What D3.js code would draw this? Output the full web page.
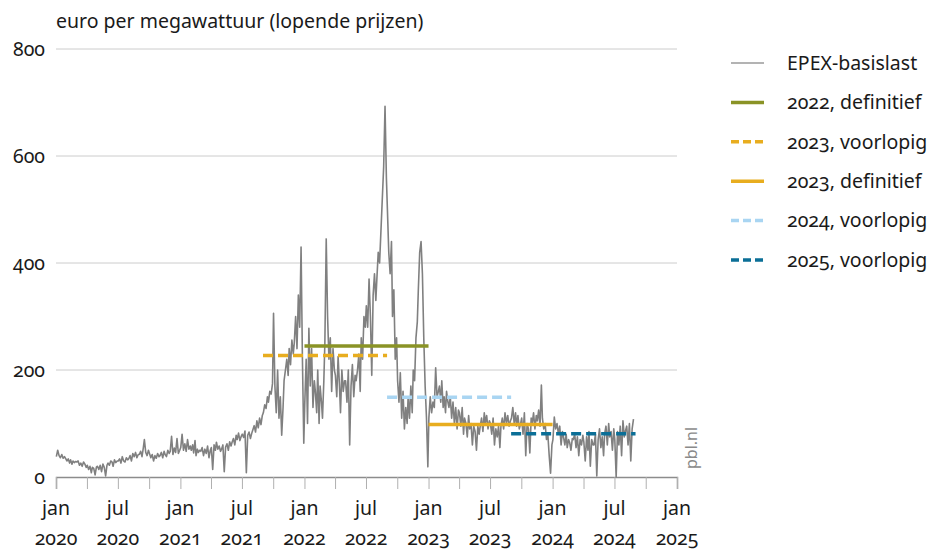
<!DOCTYPE html>
<html>
<head>
<meta charset="utf-8">
<script src="https://cdn.jsdelivr.net/npm/d3@7"></script>
<style>
  body { margin: 0; background: #fff; }
  svg text { font-family: "Noto Sans", sans-serif; font-variant-numeric: oldstyle-nums; font-feature-settings: "onum"; fill: #1a1a1a; }
</style>
</head>
<body>
<svg id="chart" width="931" height="551"></svg>
<script>
// EPEX basislast, 8 readings per month (euro/MWh)
const epex2020 = [
  38, 50, 40, 36, 42, 35, 38, 34,
  30, 34, 26, 32, 24, 30, 27, 29,
  28, 30, 22, 26, 20, 28, 24, 18,
  22, 14, 20, 8, 18, 16, 4, 19,
  20, 14, 22, 10, 24, 18, 2, 22,
  26, 22, 30, 28, 20, 32, 27, 30,
  30, 34, 26, 38, 30, 28, 36, 32,
  34, 40, 30, 44, 38, 46, 36, 42,
  42, 48, 38, 55, 70, 46, 40, 50,
  44, 36, 42, 30, 40, 35, 44, 38,
  40, 46, 36, 48, 42, 38, 50, 44,
  48, 76, 42, 54, 46, 72, 44, 50
];
const epex2021 = [
  55, 80, 50, 62, 48, 70, 52, 58,
  50, 60, 45, 68, 40, 52, 46, 50,
  48, 55, 40, 52, 44, 58, 36, 50,
  55, 14, 60, 50, 65, 52, 58, 48,
  52, 60, 10, 56, 62, 50, 66, 58,
  65, 72, 60, 78, 70, 82, 68, 76,
  80, 74, 86, 8, 78, 84, 72, 82,
  88, 96, 84, 105, 92, 110, 98, 115,
  120, 135, 128, 150, 140, 160, 155, 175,
  306, 170, 120, 200, 110, 150, 78, 130,
  180, 200, 220, 190, 240, 210, 256, 230,
  250, 300, 240, 340, 280, 430, 220, 63
];
const epex2022 = [
  140, 220, 100, 278, 170, 240, 130, 180,
  160, 120, 200, 100, 170, 140, 110, 180,
  250, 445, 300, 220, 260, 160, 240, 200,
  190, 150, 225, 170, 120, 200, 160, 180,
  180, 140, 200, 60, 170, 210, 150, 190,
  180, 200, 230, 160, 260, 220, 300, 280,
  320, 280, 370, 300, 190, 340, 380, 330,
  370, 420, 400, 460, 520, 580, 693, 560,
  500, 420, 380, 440, 300, 350, 220, 260,
  180, 140, 195, 110, 160, 90, 130, 100,
  150, 110, 170, 120, 200, 180, 260, 290,
  350, 420, 440, 380, 260, 170, 110, 19
];
const epex2023 = [
  110, 150, 120, 140, 130, 204, 150, 160,
  170, 140, 180, 130, 150, 120, 160, 140,
  130, 150, 110, 140, 100, 130, 90, 125,
  120, 95, 130, 80, 110, 100, 75, 115,
  90, 100, 60, 95, 85, 50, 95, 80,
  95, 110, 85, 120, 100, 115, 90, 105,
  100, 80, 110, 60, 90, 75, 95, 55,
  95, 110, 90, 120, 100, 115, 95, 105,
  110, 130, 100, 120, 95, 115, 90, 100,
  110, 80, 120, 40, 100, 90, 45, 110,
  100, 120, 90, 115, 105, 125, 95, 172,
  110, 90, 100, 70, 80, 40, 7, 60
];
const epex2024 = [
  70, 112, 90, 100, 80, 95, 60, 85,
  75, 60, 80, 55, 70, 65, 50, 72,
  70, 80, 55, 75, 40, 70, 60, 78,
  65, 30, 75, 50, 85, 20, 70, 60,
  60, 80, 2, 70, 90, 55, 75, 40,
  80, 95, 60, 100, 75, 85, 50, 90,
  70, 0, 85, 60, 95, 40, 105, 75,
  85, 95, 60, 100, 30, 90, 108
];
const epexYears = [2020, 2021, 2022, 2023, 2024];
const epexValues = [epex2020, epex2021, epex2022, epex2023, epex2024];

// averages (definitief / voorlopig)
const avgLabels = ["2022, definitief", "2023, voorlopig", "2023, definitief", "2024, voorlopig", "2025, voorlopig"];
const avgValues = [245, 227, 98, 149, 81];
const avgStart = ["2022-01-01", "2021-09-01", "2023-01-01", "2022-09-01", "2023-09-01"];
const avgEnd = ["2023-01-01", "2022-09-01", "2024-01-01", "2023-09-01", "2024-09-01"];
const avgColors = ["#8a9326", "#e8ad1f", "#e8ad1f", "#a9d5f2", "#0b6f97"];
const avgDashed = [false, true, false, true, true];

const yTicks = [0, 200, 400, 600, 800];
const monthNames = { 0: "jan", 6: "jul" };

const svg = d3.select("#chart");
const x = d3.scaleTime()
  .domain([new Date(2020, 0, 1), new Date(2025, 0, 1)])
  .range([56, 677]);
const y = d3.scaleLinear().domain([0, 800]).range([477, 49]);

// build points from the monthly readings
const points = [];
epexValues.forEach((vals, yi) => {
  vals.forEach((v, i) => {
    const m = Math.floor(i / 8), k = i % 8;
    const days = new Date(epexYears[yi], m + 1, 0).getDate();
    const d = new Date(epexYears[yi], m, 1 + (k + 0.5) * days / 8);
    points.push({ date: d, value: v });
  });
});

const fs = 19.5;

// title
svg.append("text")
  .attr("x", 56).attr("y", 28)
  .attr("font-size", fs)
  .text("euro per megawattuur (lopende prijzen)");

// grid
svg.append("g").selectAll("line")
  .data(yTicks.filter(d => d > 0))
  .join("line")
  .attr("x1", 56).attr("x2", 677)
  .attr("y1", d => y(d)).attr("y2", d => y(d))
  .attr("stroke", "#cccccc").attr("stroke-width", 1);

svg.append("g").selectAll("text")
  .data(yTicks)
  .join("text")
  .attr("x", 45).attr("y", d => y(d))
  .attr("dy", "0.35em")
  .attr("text-anchor", "end")
  .attr("font-size", fs)
  .text(d => d);

// x axis
const xAxis = d3.axisBottom(x)
  .ticks(d3.timeMonth.every(3))
  .tickSize(12)
  .tickFormat("");
const gx = svg.append("g")
  .attr("transform", "translate(0,477)")
  .call(xAxis);
gx.select(".domain").attr("stroke", "#8c8c8c").attr("stroke-width", 1.5);
gx.selectAll(".tick line").attr("stroke", "#b0b0b0");

const labelTicks = x.ticks(d3.timeMonth.every(6));
svg.append("g").selectAll("text")
  .data(labelTicks)
  .join("text")
  .attr("x", d => x(d)).attr("y", 515)
  .attr("text-anchor", "middle")
  .attr("font-size", fs)
  .text(d => monthNames[d.getMonth()]);
svg.append("g").selectAll("text")
  .data(labelTicks)
  .join("text")
  .attr("x", d => x(d)).attr("y", 545)
  .attr("text-anchor", "middle")
  .attr("font-size", fs)
  .text(d => d.getFullYear());

// EPEX line
const line = d3.line().x(d => x(d.date)).y(d => y(d.value));
svg.append("path")
  .datum(points)
  .attr("d", line)
  .attr("fill", "none")
  .attr("stroke", "#808080")
  .attr("stroke-width", 1.6)
  .attr("stroke-linejoin", "round");

// average lines
const parse = d3.timeParse("%Y-%m-%d");
svg.append("g").selectAll("line")
  .data(avgValues)
  .join("line")
  .attr("x1", (d, i) => x(parse(avgStart[i])))
  .attr("x2", (d, i) => x(parse(avgEnd[i])))
  .attr("y1", d => y(d)).attr("y2", d => y(d))
  .attr("stroke", (d, i) => avgColors[i])
  .attr("stroke-width", 3.5)
  .attr("stroke-dasharray", (d, i) => avgDashed[i] ? "10,5" : null);

// pbl.nl
svg.append("text")
  .attr("transform", "translate(697,469) rotate(-90)")
  .attr("font-size", 16)
  .style("fill", "#8a8a8a")
  .text("pbl.nl");

// legend
const legLabels = ["EPEX-basislast"].concat(avgLabels);
const legColors = ["#9a9a9a"].concat(avgColors);
const legWidths = [1.5, 3.5, 3.5, 3.5, 3.5, 3.5];
const legDashed = [false].concat(avgDashed);
const leg = svg.append("g").selectAll("g")
  .data(legLabels)
  .join("g")
  .attr("transform", (d, i) => `translate(731,${63 + i * 39.4})`);
leg.append("line")
  .attr("x1", 0).attr("x2", 33)
  .attr("stroke", (d, i) => legColors[i])
  .attr("stroke-width", (d, i) => legWidths[i])
  .attr("stroke-dasharray", (d, i) => legDashed[i] ? "8,4" : null);
leg.append("text")
  .attr("x", 56).attr("dy", "0.35em")
  .attr("font-size", fs)
  .text(d => d);
</script>
</body>
</html>
